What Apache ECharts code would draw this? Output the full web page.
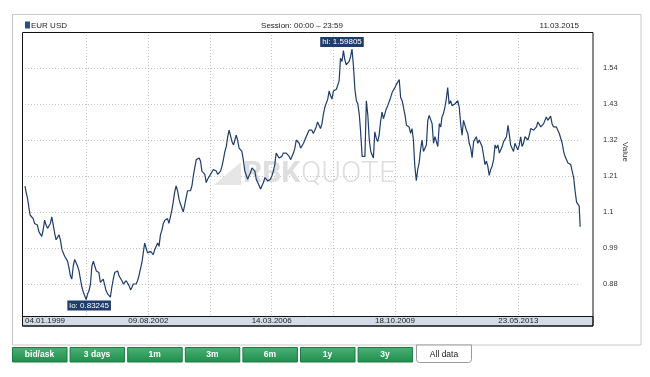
<!DOCTYPE html>
<html>
<head>
<meta charset="utf-8">
<title>EUR USD</title>
<script src="https://cdn.jsdelivr.net/npm/echarts@6/dist/echarts.min.js"></script>
<style>
  html, body { margin: 0; padding: 0; background: #fff; }
  #chart { width: 650px; height: 377px; }
</style>
</head>
<body>
<div id="chart"></div>
<script>
// EUR/USD, two readings a month (1st and 16th)
const rates = [
  [1.179, 1.160, 1.140, 1.110, 1.090, 1.090, 1.080, 1.065, 1.070, 1.060, 1.040, 1.035, 1.025, 1.045, 1.075, 1.060, 1.050, 1.045, 1.065, 1.085, 1.060, 1.035, 1.015, 1.010], // 1999
  [1.030, 1.015, 0.985, 0.975, 0.965, 0.960, 0.950, 0.930, 0.905, 0.895, 0.935, 0.955, 0.945, 0.935, 0.920, 0.895, 0.870, 0.855, 0.855, 0.83245, 0.850, 0.860, 0.880, 0.935], // 2000
  [0.950, 0.935, 0.920, 0.925, 0.915, 0.885, 0.890, 0.895, 0.890, 0.860, 0.850, 0.845, 0.840, 0.870, 0.895, 0.915, 0.910, 0.920, 0.905, 0.900, 0.890, 0.880, 0.885, 0.890], // 2001
  [0.895, 0.875, 0.862, 0.870, 0.880, 0.875, 0.880, 0.890, 0.905, 0.925, 0.945, 0.975, 1.005, 0.990, 0.975, 0.980, 0.980, 0.975, 0.970, 0.985, 0.995, 1.005, 0.995, 1.030], // 2002
  [1.045, 1.065, 1.075, 1.080, 1.080, 1.065, 1.085, 1.105, 1.130, 1.160, 1.180, 1.165, 1.140, 1.125, 1.125, 1.100, 1.095, 1.145, 1.165, 1.170, 1.165, 1.180, 1.210, 1.235], // 2003
  [1.260, 1.255, 1.265, 1.255, 1.225, 1.230, 1.215, 1.190, 1.200, 1.205, 1.215, 1.215, 1.230, 1.225, 1.225, 1.215, 1.220, 1.225, 1.240, 1.260, 1.285, 1.300, 1.330, 1.350], // 2004
  [1.355, 1.315, 1.305, 1.310, 1.335, 1.320, 1.295, 1.300, 1.285, 1.260, 1.225, 1.220, 1.200, 1.210, 1.220, 1.235, 1.230, 1.225, 1.200, 1.205, 1.180, 1.170, 1.180, 1.190], // 2005
  [1.205, 1.210, 1.195, 1.190, 1.200, 1.210, 1.225, 1.245, 1.280, 1.285, 1.265, 1.260, 1.270, 1.280, 1.285, 1.280, 1.280, 1.270, 1.260, 1.265, 1.280, 1.295, 1.320, 1.315], // 2006
  [1.310, 1.295, 1.300, 1.310, 1.315, 1.330, 1.335, 1.350, 1.355, 1.350, 1.340, 1.340, 1.360, 1.375, 1.370, 1.355, 1.370, 1.400, 1.420, 1.415, 1.445, 1.470, 1.455, 1.445], // 2007
  [1.470, 1.470, 1.475, 1.470, 1.500, 1.570, 1.560, 1.593, 1.565, 1.550, 1.555, 1.560, 1.575, 1.59805, 1.545, 1.475, 1.440, 1.430, 1.400, 1.345, 1.270, 1.265, 1.270, 1.440], // 2008
  [1.395, 1.320, 1.285, 1.280, 1.265, 1.345, 1.325, 1.315, 1.335, 1.375, 1.405, 1.385, 1.400, 1.415, 1.425, 1.425, 1.450, 1.465, 1.460, 1.480, 1.490, 1.495, 1.505, 1.450], // 2009
  [1.440, 1.440, 1.395, 1.365, 1.365, 1.360, 1.340, 1.355, 1.320, 1.240, 1.196, 1.230, 1.250, 1.290, 1.320, 1.285, 1.285, 1.305, 1.380, 1.395, 1.390, 1.370, 1.310, 1.330], // 2010
  [1.335, 1.300, 1.370, 1.360, 1.390, 1.400, 1.420, 1.445, 1.480, 1.430, 1.440, 1.425, 1.420, 1.430, 1.430, 1.440, 1.420, 1.370, 1.335, 1.380, 1.380, 1.350, 1.340, 1.310], // 2011
  [1.295, 1.266, 1.315, 1.320, 1.330, 1.310, 1.320, 1.315, 1.300, 1.275, 1.245, 1.255, 1.240, 1.212, 1.230, 1.240, 1.260, 1.305, 1.295, 1.305, 1.280, 1.275, 1.300, 1.315], // 2012
  [1.320, 1.330, 1.365, 1.335, 1.305, 1.295, 1.285, 1.310, 1.310, 1.290, 1.305, 1.330, 1.300, 1.310, 1.330, 1.335, 1.320, 1.335, 1.355, 1.360, 1.350, 1.345, 1.360, 1.375], // 2013
  [1.375, 1.360, 1.355, 1.370, 1.380, 1.390, 1.380, 1.385, 1.393, 1.370, 1.360, 1.365, 1.360, 1.350, 1.340, 1.335, 1.310, 1.285, 1.270, 1.265, 1.250, 1.245, 1.245, 1.225], // 2014
  [1.205, 1.165, 1.130, 1.135, 1.118, 1.0547] // 2015
]
const firstYear = 1999
const pointDays = [1, 16]
const firstDate = [1999, 0, 4]   // 04.01.1999
const lastDate = [2015, 2, 11]   // 11.03.2015

const xTickLabels = ['04.01.1999', '09.08.2002', '14.03.2006', '18.10.2009', '23.05.2013']
const xTickStep = 656.5          // days between grid lines (labels on every second one)
const yMin = 0.77
const yMax = 1.65
const yStep = 0.11

const headerTexts = ['EUR USD', 'Session: 00:00 \u2013 23:59', '11.03.2015']
const buttonLabels = ['bid/ask', '3 days', '1m', '3m', '6m', '1y', '3y']
const activeTab = 'All data'

// build [day offset, rate] pairs
var t0 = Date.UTC.apply(null, firstDate)
var points = []
rates.forEach(function (row, yi) {
  row.forEach(function (v, j) {
    var d = [firstYear + yi, Math.floor(j / 2), pointDays[j % 2]]
    if (yi === 0 && j === 0) d = firstDate
    if (yi === rates.length - 1 && j === row.length - 1) d = lastDate
    points.push([(Date.UTC.apply(null, d) - t0) / 864e5, v])
  })
})
// plot ends on the 9th grid step (last data point sits right there)
var xMax = 9 * xTickStep

var font = 'Liberation Sans, Arial, sans-serif'
var gridLine = { color: '#c4c4c4', type: [1, 2], width: 1 }

var graphics = [
  // outer panel
  { type: 'rect', z: -10, shape: { x: 12.5, y: 14.5, width: 628.5, height: 330.5 },
    style: { fill: '#fff', stroke: '#c8c8c8', lineWidth: 1 } },
  // watermark
  { type: 'polygon', z: 1, shape: { points: [[214, 185], [241, 162], [241, 185]] },
    style: { fill: '#e6e6e6' } },
  { type: 'text', z: 1, x: 243, y: 174,
    style: { text: 'RBK', fill: '#dedede', font: 'bold 30px Roboto, sans-serif', verticalAlign: 'middle' } },
  { type: 'text', z: 1, x: 301, y: 174,
    style: { text: 'QUOTE', fill: '#dedede', font: '300 30px Roboto, sans-serif', verticalAlign: 'middle' } },
  // date band under the plot
  { type: 'rect', z: 5, shape: { x: 22.5, y: 316.5, width: 570.5, height: 9.5 },
    style: { fill: '#d3dde7', stroke: '#111', lineWidth: 1 } },
  // plot frame
  { type: 'rect', z: 20, shape: { x: 22.5, y: 32.5, width: 570.5, height: 293.5 },
    style: { fill: 'none', stroke: '#111', lineWidth: 1 } },
  // header
  { type: 'rect', z: 20, shape: { x: 25, y: 21.5, width: 5, height: 7 }, style: { fill: '#2d4e80' } },
  { type: 'text', z: 20, x: 31, y: 25.5,
    style: { text: headerTexts[0], fill: '#222', font: '8px ' + font, verticalAlign: 'middle' } },
  { type: 'text', z: 20, x: 302, y: 25.5,
    style: { text: headerTexts[1], fill: '#222', font: '8px ' + font, align: 'center', verticalAlign: 'middle' } },
  { type: 'text', z: 20, x: 579, y: 25.5,
    style: { text: headerTexts[2], fill: '#222', font: '8px ' + font, align: 'right', verticalAlign: 'middle' } },
  // axis title
  { type: 'text', z: 20, x: 625, y: 152, rotation: -Math.PI / 2,
    style: { text: 'Value', fill: '#333', font: '8px ' + font, align: 'center', verticalAlign: 'middle' } }
]

// period buttons
buttonLabels.forEach(function (label, i) {
  var x = 12.5 + i * 57.6
  graphics.push({
    type: 'rect', z: 20, shape: { x: x, y: 347.5, width: 54.5, height: 14.5 },
    style: {
      fill: new echarts.graphic.LinearGradient(0, 0, 0, 1, [
        { offset: 0, color: '#48b374' }, { offset: 1, color: '#228c4e' }
      ]),
      stroke: '#1c7a43', lineWidth: 1
    }
  })
  graphics.push({
    type: 'text', z: 21, x: x + 27, y: 355,
    style: { text: label, fill: '#fff', font: 'bold 8.5px ' + font, align: 'center', verticalAlign: 'middle' }
  })
})
graphics.push({
  type: 'rect', z: 20, shape: { x: 416.5, y: 345, width: 55, height: 17.5, r: [0, 0, 3, 3] },
  style: { fill: '#fff', stroke: '#9a9a9a', lineWidth: 1 }
})
graphics.push({
  type: 'text', z: 21, x: 444, y: 354.5,
  style: { text: activeTab, fill: '#222', font: '8.5px ' + font, align: 'center', verticalAlign: 'middle' }
})

function dateLabel (v) {
  var k = Math.round(v / xTickStep)
  if (Math.abs(k * xTickStep - v) > 1 || k % 2) return ''
  return xTickLabels[k / 2] || ''
}

var chart = echarts.init(document.getElementById('chart'), null, { renderer: 'canvas' })
chart.setOption({
  animation: false,
  graphic: graphics,
  grid: { left: 25, top: 32, width: 555, height: 288, show: false },
  xAxis: [{
    // grid lines only
    type: 'value', min: 0, max: xMax, interval: xTickStep, z: 0,
    axisLine: { show: false }, axisTick: { show: false }, axisLabel: { show: false },
    splitLine: { show: true, showMinLine: false, showMaxLine: false, lineStyle: gridLine }
  }, {
    // date labels, drawn over the band
    type: 'value', min: 0, max: xMax, interval: xTickStep, z: 10, position: 'bottom',
    axisLine: { show: false }, axisTick: { show: false }, splitLine: { show: false },
    axisLabel: {
      show: true, margin: 1, verticalAlign: 'middle', alignMinLabel: 'left',
      color: '#222', fontSize: 8, fontFamily: font, formatter: dateLabel
    }
  }],
  yAxis: {
    type: 'value', position: 'right', min: yMin, max: yMax, interval: yStep,
    axisLine: { show: false }, axisTick: { show: false },
    splitLine: { show: true, lineStyle: gridLine },
    axisLabel: {
      margin: 23, color: '#333', fontSize: 7.5, fontFamily: font,
      showMinLabel: false, showMaxLabel: false,
      formatter: function (v) { return String(+v.toFixed(2)) }
    }
  },
  series: [{
    type: 'line',
    xAxisIndex: 0,
    data: points,
    showSymbol: false,
    clip: false,
    z: 2,
    lineStyle: { color: '#1e3d6c', width: 1.2 },
    markPoint: {
      symbol: 'rect', symbolSize: 1,
      itemStyle: { color: 'rgba(0,0,0,0)' },
      label: {
        show: true, position: 'inside', color: '#fff', backgroundColor: '#1f3d6b',
        fontSize: 8, fontFamily: font, padding: [1, 2, 0, 2], lineHeight: 9
      },
      data: [
        { type: 'max', valueDim: 'y', label: { offset: [-10, -7], formatter: function (p) { return 'hi: ' + (Array.isArray(p.value) ? p.value[1] : p.value) } } },
        { type: 'min', valueDim: 'y', label: { offset: [3, 6], formatter: function (p) { return 'lo: ' + (Array.isArray(p.value) ? p.value[1] : p.value) } } }
      ]
    }
  }]
})
</script>
</body>
</html>
